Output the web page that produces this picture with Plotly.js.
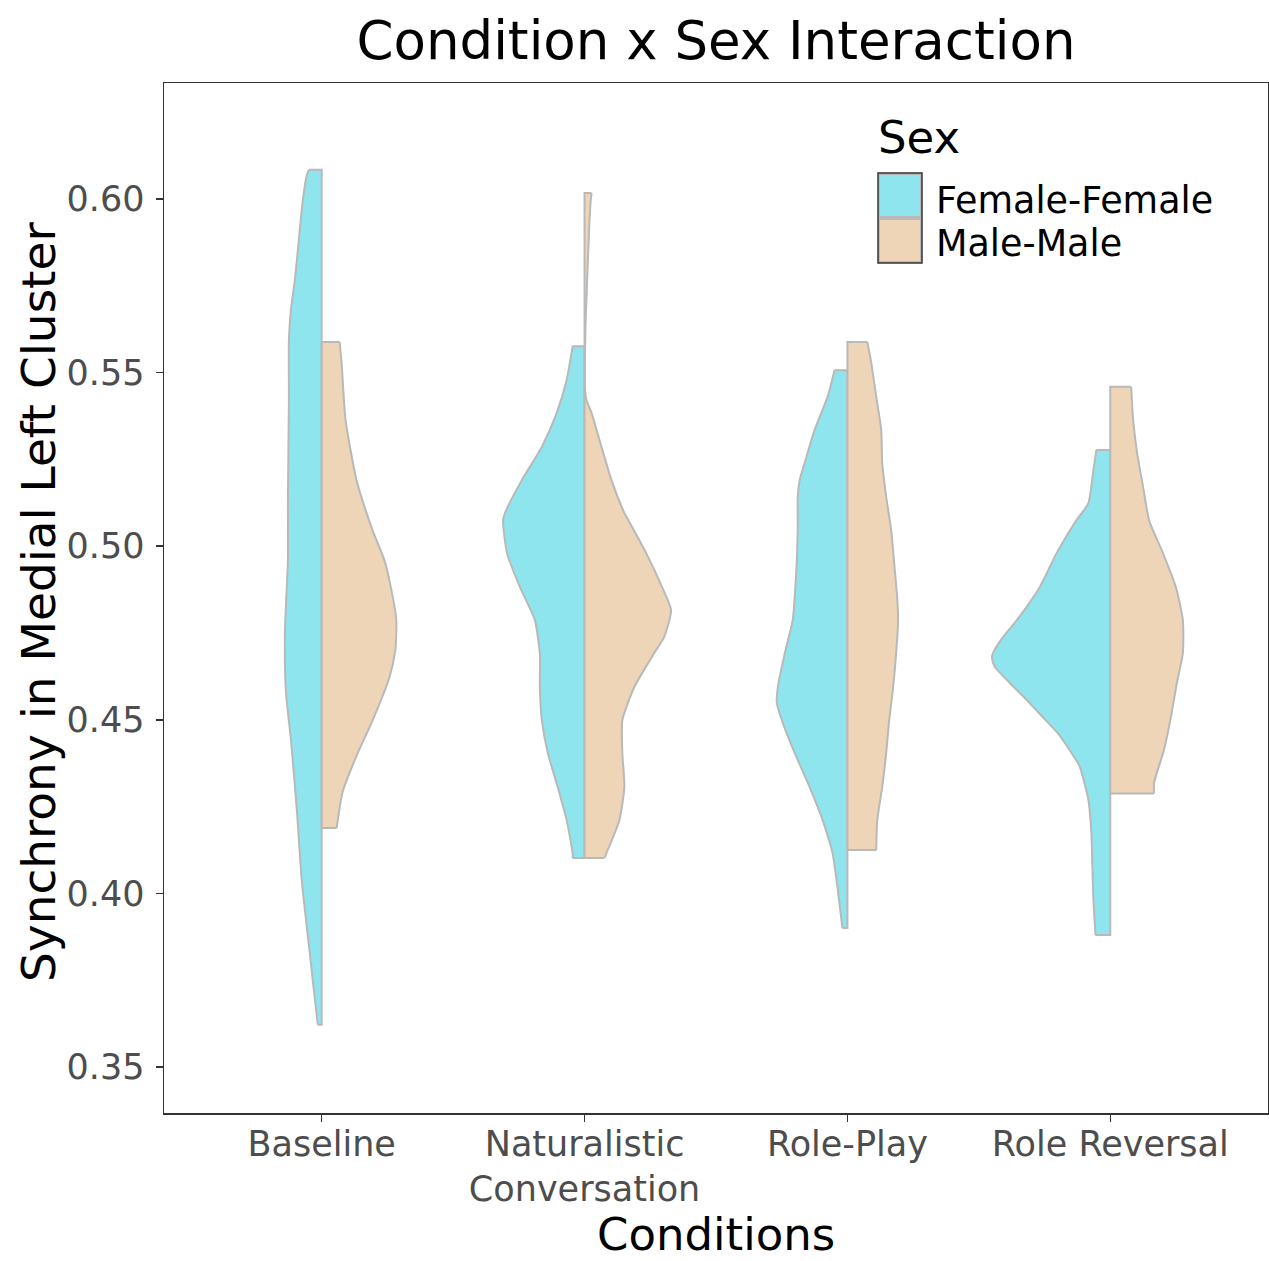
<!DOCTYPE html>
<html>
<head>
<meta charset="utf-8">
<script src="https://cdn.plot.ly/plotly-3.0.1.min.js"></script>
<style>
  html, body { margin: 0; padding: 0; background: #ffffff; }
  #chart { width: 1269px; height: 1261px; }
</style>
</head>
<body>
<div id="chart"></div>
<script>
// ---------- Data ----------
const conditions = ["Baseline", "Naturalistic Conversation", "Role-Play", "Role Reversal"];
const tickLabels = ["Baseline", "Naturalistic<br>Conversation", "Role-Play", "Role Reversal"];
const sexes = ["Female-Female", "Male-Male"];
const yTickValues = [0.35, 0.40, 0.45, 0.50, 0.55, 0.60];

// Violin outlines: y levels (synchrony) and relative kernel density at each level
const baselineFemaleY = [0.6084, 0.6069, 0.5997, 0.5853, 0.5767, 0.5680, 0.5594, 0.5421, 0.5133, 0.4960, 0.4755, 0.4580, 0.4444, 0.4240, 0.4035, 0.3828, 0.3724, 0.3622];
const baselineFemaleDensity = [13, 15, 19, 24, 27, 31, 33, 33, 34, 34, 37, 36, 31, 25, 20, 12, 8, 4];
const baselineMaleY = [0.5588, 0.5528, 0.5363, 0.5191, 0.5047, 0.4960, 0.4903, 0.4787, 0.4700, 0.4621, 0.4497, 0.4396, 0.4292, 0.4188];
const baselineMaleDensity = [18, 20, 24, 35, 51, 63, 68, 75, 74, 68, 51, 35, 21, 15];

const naturalisticFemaleY = [0.5576, 0.5479, 0.5384, 0.5286, 0.5191, 0.5096, 0.5075, 0.4980, 0.4882, 0.4787, 0.4692, 0.4594, 0.4499, 0.4404, 0.4306, 0.4211, 0.4116, 0.4102];
const naturalisticFemaleDensity = [12, 18, 28, 43, 63, 80, 82, 78, 65, 50, 45, 45, 43, 37, 27, 18, 12, 12];
const naturalisticMaleY = [0.6017, 0.5990, 0.5940, 0.5870, 0.5800, 0.5720, 0.5640, 0.5450, 0.5420, 0.5384, 0.5286, 0.5191, 0.5096, 0.5075, 0.4980, 0.4882, 0.4816, 0.4738, 0.4692, 0.4594, 0.4499, 0.4404, 0.4306, 0.4211, 0.4116, 0.4102];
const naturalisticMaleDensity = [7, 6, 5, 4, 3, 2, 1, 0.5, 2, 7, 17, 27, 40, 44, 62, 78, 87, 80, 70, 50, 38, 38, 40, 35, 22, 20];

const rolePlayFemaleY = [0.5507, 0.5430, 0.5335, 0.5240, 0.5191, 0.5142, 0.5047, 0.4952, 0.4854, 0.4787, 0.4692, 0.4594, 0.4548, 0.4499, 0.4404, 0.4306, 0.4211, 0.4116, 0.4018, 0.3923, 0.3900];
const rolePlayFemaleDensity = [13, 20, 33, 43, 48, 50, 50, 51, 53, 55, 63, 70, 71, 66, 53, 38, 25, 15, 10, 6, 5];
const rolePlayMaleY = [0.5588, 0.5528, 0.5430, 0.5335, 0.5240, 0.5142, 0.5047, 0.4952, 0.4854, 0.4787, 0.4692, 0.4594, 0.4499, 0.4404, 0.4306, 0.4211, 0.4125];
const rolePlayMaleDensity = [20, 24, 29, 34, 35, 39, 44, 47, 50, 51, 49, 46, 42, 39, 35, 30, 29];

const roleReversalFemaleY = [0.5277, 0.5219, 0.5124, 0.5075, 0.4980, 0.4882, 0.4787, 0.4738, 0.4692, 0.4678, 0.4652, 0.4606, 0.4557, 0.4508, 0.4462, 0.4413, 0.4367, 0.4318, 0.4269, 0.4174, 0.4076, 0.3981, 0.3886, 0.3880];
const roleReversalFemaleDensity = [14, 17, 22, 34, 54, 71, 94, 108, 118, 119, 116, 101, 84, 68, 53, 41, 31, 26, 22, 19, 18, 17, 15, 15];
const roleReversalMaleY = [0.5459, 0.5363, 0.5268, 0.5171, 0.5075, 0.4980, 0.4882, 0.4787, 0.4692, 0.4606, 0.4508, 0.4413, 0.4318, 0.4288];
const roleReversalMaleDensity = [21, 23, 27, 33, 39, 53, 66, 73, 73, 67, 61, 54, 44, 44];

// ---------- Build the split violins ----------
const groups = [
  { cond: 0, sex: 0, y: baselineFemaleY, d: baselineFemaleDensity },
  { cond: 0, sex: 1, y: baselineMaleY, d: baselineMaleDensity },
  { cond: 1, sex: 0, y: naturalisticFemaleY, d: naturalisticFemaleDensity },
  { cond: 1, sex: 1, y: naturalisticMaleY, d: naturalisticMaleDensity },
  { cond: 2, sex: 0, y: rolePlayFemaleY, d: rolePlayFemaleDensity },
  { cond: 2, sex: 1, y: rolePlayMaleY, d: rolePlayMaleDensity },
  { cond: 3, sex: 0, y: roleReversalFemaleY, d: roleReversalFemaleDensity },
  { cond: 3, sex: 1, y: roleReversalMaleY, d: roleReversalMaleDensity }
];

const fillColors = ["#8EE5EE", "#EED5B7"];
const outlineColor = "#B9B9B9";
const outlineWidth = 2;
const maxHalfWidth = 0.45; // widest half-violin in category units (ggplot scale = "area")
const maxDensity = Math.max(...groups.map(g => Math.max(...g.d)));

const traces = [];
groups.forEach(g => {
  const center = g.cond + 1;
  const side = g.sex === 0 ? -1 : 1;
  const edgeX = g.d.map(v => center + side * maxHalfWidth * v / maxDensity);
  const edgeY = g.y;
  const yTop = edgeY[0], yBot = edgeY[edgeY.length - 1];

  // filled body (polygon through the density profile and the centre line)
  traces.push({
    type: "scatter", mode: "lines",
    x: edgeX.concat([center, center, edgeX[0]]),
    y: edgeY.concat([yBot, yTop, yTop]),
    fill: "toself", fillcolor: fillColors[g.sex],
    line: { color: fillColors[g.sex], width: 0.5 },
    name: sexes[g.sex], legendgroup: sexes[g.sex],
    showlegend: false, hoverinfo: "skip"
  });
  // smooth outer density outline
  traces.push({
    type: "scatter", mode: "lines",
    x: edgeX, y: edgeY,
    line: { color: outlineColor, width: outlineWidth, shape: "spline", smoothing: 0.6 },
    showlegend: false, hoverinfo: "skip"
  });
  // straight ends and centre line
  traces.push({
    type: "scatter", mode: "lines",
    x: [edgeX[edgeX.length - 1], center, center, edgeX[0]],
    y: [yBot, yBot, yTop, yTop],
    line: { color: outlineColor, width: outlineWidth },
    showlegend: false, hoverinfo: "skip"
  });
});

// ---------- Layout ----------
const W = 1269, H = 1261;
const mL = 164, mR = 1, mT = 83, mB = 148;
const plotW = W - mL - mR, plotH = H - mT - mB;
const px = v => (v - mL) / plotW;
const py = v => (H - mB - v) / plotH;

const mainFont = "DejaVu Sans, Liberation Sans, Arial, sans-serif";

const legendShapes = [
  { type: "rect", xref: "paper", yref: "paper", x0: px(879), x1: px(921), y0: py(217), y1: py(174),
    fillcolor: fillColors[0], line: { color: outlineColor, width: 2 } },
  { type: "rect", xref: "paper", yref: "paper", x0: px(879), x1: px(921), y0: py(262), y1: py(219),
    fillcolor: fillColors[1], line: { color: outlineColor, width: 2 } },
  { type: "rect", xref: "paper", yref: "paper", x0: px(878), x1: px(922), y0: py(263), y1: py(173),
    fillcolor: "rgba(0,0,0,0)", line: { color: "#333333", width: 1.5 } }
];

const textAnnotations = [
  { xref: "paper", yref: "paper", x: px(876), y: py(138), xanchor: "left", yanchor: "middle",
    text: "Sex", showarrow: false, font: { family: mainFont, size: 45, color: "#000000" } },
  { xref: "paper", yref: "paper", x: px(934), y: py(201), xanchor: "left", yanchor: "middle",
    text: sexes[0], showarrow: false, font: { family: mainFont, size: 36.5, color: "#000000" } },
  { xref: "paper", yref: "paper", x: px(934), y: py(244), xanchor: "left", yanchor: "middle",
    text: sexes[1], showarrow: false, font: { family: mainFont, size: 36.5, color: "#000000" } },
  // y-axis title
  { xref: "paper", yref: "paper", x: px(38), y: py(602), xanchor: "center", yanchor: "middle",
    textangle: -90, text: "Synchrony in Medial Left Cluster", showarrow: false,
    font: { family: mainFont, size: 47, color: "#000000" } },
  // x-axis title
  { xref: "paper", yref: "paper", x: px(716), y: py(1234), xanchor: "center", yanchor: "middle",
    text: "Conditions", showarrow: false,
    font: { family: mainFont, size: 45, color: "#000000" } }
];

const layout = {
  width: W,
  height: H,
  margin: { l: mL, r: mR, t: mT, b: mB, pad: 0 },
  paper_bgcolor: "#ffffff",
  plot_bgcolor: "#ffffff",
  showlegend: false,
  title: {
    text: "Condition x Sex Interaction",
    font: { family: mainFont, size: 53, color: "#000000" },
    x: 0.5, xref: "paper", xanchor: "center",
    y: 1 - 40 / H, yref: "container", yanchor: "middle"
  },
  xaxis: {
    range: [0.4, 4.6],
    tickmode: "array",
    tickvals: [1, 2, 3, 4],
    ticktext: tickLabels,
    showgrid: false,
    zeroline: false,
    showline: true,
    mirror: true,
    linecolor: "#333333",
    linewidth: 1.5,
    ticks: "outside",
    ticklen: 7,
    tickwidth: 1.5,
    tickcolor: "#333333",
    ticklabelstandoff: -8,
    tickfont: { family: mainFont, size: 35, color: "#4D4D4D" },
    automargin: false
  },
  yaxis: {
    range: [0.33675, 0.63341],
    tickmode: "array",
    tickvals: yTickValues,
    ticktext: yTickValues.map(v => v.toFixed(2)),
    showgrid: false,
    zeroline: false,
    showline: true,
    mirror: true,
    linecolor: "#333333",
    linewidth: 1.5,
    ticks: "outside",
    ticklen: 7,
    tickwidth: 1.5,
    tickcolor: "#333333",
    ticklabelstandoff: 4,
    tickfont: { family: mainFont, size: 35, color: "#4D4D4D" },
    automargin: false
  },
  shapes: legendShapes,
  annotations: textAnnotations
};

Plotly.newPlot("chart", traces, layout, { displayModeBar: false, staticPlot: true });
</script>
</body>
</html>
